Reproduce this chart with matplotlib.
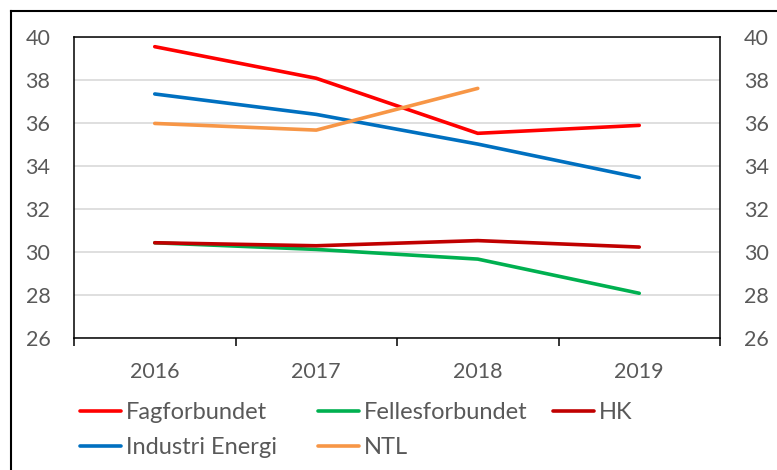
# -*- coding: utf8
'''
Line chart of five unions, values per year 2016-2019,
same scale shown on both the left and right y-axis.
'''
from matplotlib import pyplot as plt
from matplotlib.lines import Line2D

years = ['2016', '2017', '2018', '2019']

fagforbundet = [39.55, 38.08, 35.52, 35.89]
fellesforbundet = [30.43, 30.12, 29.67, 28.08]
hk = [30.43, 30.29, 30.53, 30.23]
industri_energi = [37.35, 36.40, 35.02, 33.46]
ntl = [35.98, 35.67, 37.61]

series = [
    ('Fagforbundet', fagforbundet, '#FF0000'),
    ('Fellesforbundet', fellesforbundet, '#00B050'),
    ('HK', hk, '#C00000'),
    ('Industri Energi', industri_energi, '#0070C0'),
    ('NTL', ntl, '#F79646'),
]

plt.rcParams['font.family'] = ['Lato', 'DejaVu Sans']
TXT = '#595959'

fig = plt.figure(figsize=(7.77, 4.70), dpi=100)
ax = fig.add_axes([74 / 777, 1 - 338 / 470, (720 - 74) / 777, (338 - 37) / 470])

x = list(range(len(years)))
handles = []
for name, vals, col in series:
    ln, = ax.plot(x[:len(vals)], vals, color=col, lw=2.6,
                  solid_capstyle='round', solid_joinstyle='round', label=name)
    handles.append(ln)

ax.set_xlim(-0.5, len(years) - 0.5)
ax.set_ylim(26, 40)
ax.set_yticks(range(26, 41, 2))
ax.yaxis.grid(True, color='#D9D9D9', lw=1.2)
ax.set_axisbelow(True)

ax.set_xticks(x)
ax.set_xticklabels(years)
ax.set_xticks([i - 0.5 for i in range(len(years) + 1)], minor=True)
ax.tick_params(axis='x', which='major', length=0, pad=17, labelsize=15.5, labelcolor=TXT)
ax.tick_params(axis='x', which='minor', length=6, width=1.1, direction='out')
ax.tick_params(axis='y', length=0, pad=17, labelsize=15.5, labelcolor=TXT,
               right=True, labelright=True)

for sp in ax.spines.values():
    sp.set_color('black')
    sp.set_linewidth(1.1)

# legend laid out like Excel: equal-width columns, one legend per column
columns = [[handles[0], handles[3]], [handles[1], handles[4]], [handles[2]]]
col_x = [80, 318, 553]
for hs, cx in zip(columns, col_x):
    leg = fig.legend(handles=hs, loc='upper left',
                     bbox_to_anchor=(cx / 777, 1 - 402 / 470),
                     frameon=False, fontsize=17, handlelength=1.75,
                     handletextpad=0.2, labelspacing=0.6,
                     borderaxespad=0, borderpad=0)
    for t in leg.get_texts():
        t.set_color(TXT)

# outer chart frame (only left and top edges visible)
fig.add_artist(Line2D([10.5 / 777, 10.5 / 777], [0, 1 - 10.5 / 470],
                      transform=fig.transFigure, color='black', lw=1.5))
fig.add_artist(Line2D([10.5 / 777, 1], [1 - 10.5 / 470, 1 - 10.5 / 470],
                      transform=fig.transFigure, color='black', lw=1.5))

fig.savefig('out.png', dpi=100)
